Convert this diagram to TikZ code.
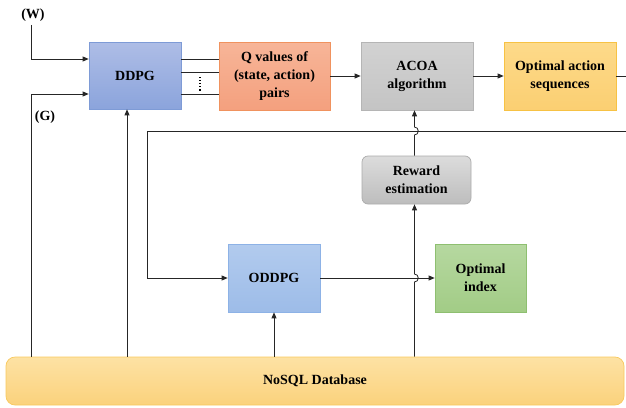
\documentclass[tikz,border=0pt]{standalone}
\usepackage{fontspec}
\setmainfont{Liberation Serif}
\usetikzlibrary{arrows.meta}
\definecolor{ddpgT}{HTML}{AEBDE6}\definecolor{ddpgB}{HTML}{8BA4DC}\definecolor{ddpgD}{HTML}{7E9BD6}
\definecolor{qT}{HTML}{F7B598}\definecolor{qB}{HTML}{F4A07E}\definecolor{qD}{HTML}{F0925E}
\definecolor{acT}{HTML}{D2D2D2}\definecolor{acB}{HTML}{C4C4C4}\definecolor{acD}{HTML}{B5B5B5}
\definecolor{oaT}{HTML}{FDDA8A}\definecolor{oaB}{HTML}{FBCF72}\definecolor{oaD}{HTML}{F7C244}
\definecolor{rwT}{HTML}{DCDCDC}\definecolor{rwB}{HTML}{BDBDBD}\definecolor{rwD}{HTML}{ABABAB}
\definecolor{odT}{HTML}{B2CBEE}\definecolor{odB}{HTML}{9DBCE8}\definecolor{odD}{HTML}{8DB2E6}
\definecolor{oiT}{HTML}{B6D8A0}\definecolor{oiB}{HTML}{A2CC86}\definecolor{oiD}{HTML}{8EBF70}
\definecolor{dbT}{HTML}{FDE2A4}\definecolor{dbB}{HTML}{FBD27C}\definecolor{dbD}{HTML}{F8C95E}
\begin{document}
\begin{tikzpicture}[x=1pt,y=-1pt,
  font=\fontsize{14}{18}\selectfont\bfseries,
  box/.style={draw, line width=0.7pt, align=center, inner sep=2pt},
  conn/.style={line width=0.8pt, draw=black!85},
  arr/.style={conn, -{Triangle[length=6pt,width=5pt]}},
]
\useasboundingbox (0,0) rectangle (626,407);
\clip (0,0) rectangle (626,407);

% boxes
\node[box, top color=ddpgT, bottom color=ddpgB, draw=ddpgD, minimum width=92pt, minimum height=67pt] (ddpg) at (135,75.5) {DDPG};
\node[box, top color=qT, bottom color=qB, draw=qD, minimum width=111pt, minimum height=68pt] (q) at (274.5,76) {Q values of\\(state, action)\\pairs};
\node[box, top color=acT, bottom color=acB, draw=acD, minimum width=112pt, minimum height=68pt] (acoa) at (417,76) {ACOA\\algorithm};
\node[box, top color=oaT, bottom color=oaB, draw=oaD, minimum width=112pt, minimum height=68pt] (oas) at (560,76) {Optimal action\\sequences};
\node[box, top color=rwT, bottom color=rwB, draw=rwD, rounded corners=6pt, minimum width=109pt, minimum height=48pt] (reward) at (416.5,180) {Reward\\estimation};
\node[box, top color=odT, bottom color=odB, draw=odD, minimum width=92pt, minimum height=68pt] (oddpg) at (274,278) {ODDPG};
\node[box, top color=oiT, bottom color=oiB, draw=oiD, minimum width=91pt, minimum height=68pt] (oidx) at (480.5,278) {Optimal\\index};
\node[box, top color=dbT, bottom color=dbB, draw=dbD, rounded corners=9pt, minimum width=618pt, minimum height=48pt] (db) at (315,381) {NoSQL Database};

% labels
\node (w) at (33,15) {(W)};
\node (g) at (45,117) {(G)};

% coordinates
\coordinate (wc) at (31,59);
\coordinate (gc) at (31,94);
\coordinate (vx) at (414.5,0);
\coordinate (dx) at (127,0);
\coordinate (outr) at (626,76);
\coordinate (loopr) at (626,131);
\coordinate (loopl) at (147,131);

% inputs
\draw[arr] (w.south -| wc) -- (wc) -- (ddpg.west |- wc);
\draw[arr] (db.north -| gc) -- (gc) -- (ddpg.west |- gc);

% DDPG -> Q lines
\foreach \yy in {59,72,94} \draw[conn] (ddpg.east |- 0,\yy) -- (q.west |- 0,\yy);
\draw[line width=1.1pt, dotted] (200,77) -- (200,92);

\draw[arr] (q) -- (acoa);
\draw[arr] (acoa) -- (oas);
\draw[conn] (oas.east) -- (outr);

% feedback loop
\draw[arr] (loopr) -- (loopl) -- (loopl |- oddpg.west) -- (oddpg.west);

% reward -> ACOA with hop
\draw[arr] (reward.north -| vx) -- (414.5,135) .. controls (419.5,135) and (419.5,127) .. (414.5,127) -- (acoa.south -| vx);
% DB -> reward with hop
\draw[arr] (db.north -| vx) -- (414.5,282) .. controls (419.5,282) and (419.5,274) .. (414.5,274) -- (reward.south -| vx);

\draw[arr] (db.north -| oddpg.south) -- (oddpg.south);
\draw[arr] (db.north -| dx) -- (ddpg.south -| dx);
\draw[arr] (oddpg.east) -- (oidx.west);
\end{tikzpicture}
\end{document}
